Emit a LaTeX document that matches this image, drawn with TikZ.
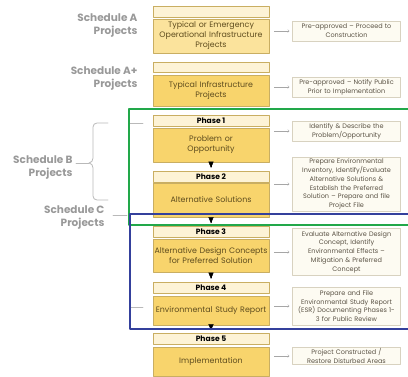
\documentclass[tikz,border=0pt]{standalone}
\usepackage{fontspec}
\setmainfont{Poppins}
\usetikzlibrary{arrows}
\definecolor{hdrfill}{HTML}{FDF3D6}
\definecolor{boxfill}{HTML}{F8D46C}
\definecolor{boxlight}{HTML}{FBE39C}
\definecolor{boxline}{HTML}{C9AE62}
\definecolor{boxtext}{HTML}{5E4C1E}
\definecolor{notefill}{HTML}{FDFBF2}
\definecolor{noteline}{HTML}{D8D2C0}
\definecolor{notetext}{HTML}{5A5244}
\definecolor{schedgrey}{HTML}{999999}
\definecolor{frameB}{HTML}{22A84A}
\definecolor{frameC}{HTML}{34409C}
\tikzset{
    hdr/.style={%Header bar over each box
        draw=boxline, fill=hdrfill, minimum width=116pt, minimum height=11pt, inner sep=0pt,
        font=\bfseries\fontsize{7.6}{8}\selectfont},
    stage/.style={draw=boxline, fill=boxfill, minimum width=116pt, text width=116pt, inner sep=0pt,
        align=center, text=boxtext, font=\fontsize{7.9}{10}\selectfont},
    note/.style={draw=noteline, fill=notefill, minimum width=108pt, text width=108pt, inner sep=0pt,
        align=center, text=notetext, font=\fontsize{6.5}{8.8}\selectfont},
    sched/.style={anchor=east, align=right, text=schedgrey, font=\bfseries\fontsize{10.5}{13}\selectfont},
    note arrow/.style={<-, draw=gray!70, line width=0.4pt, shorten <=3pt, shorten >=5pt},
    phase arrow/.style={-triangle 45, line width=0.4pt, shorten <=3pt, shorten >=3pt},
    brace line/.style={draw=gray!55, line width=0.8pt}
}
\begin{document}
\begin{tikzpicture}[line cap=round,line join=round,x=1pt,y=-1pt]
\useasboundingbox (0,0) rectangle (408,377);
% schedule A and A+
\node[hdr] (hA) at (211,11.5) {};
\node[stage, fill=boxlight, minimum height=34pt] (bA) at (211,36) {Typical or Emergency\\Operational Infrastructure\\Projects};
\node[hdr, minimum height=10pt] (hAp) at (211,67) {};
\node[stage, minimum height=31pt] (bAp) at (211,90.5) {Typical Infrastructure\\Projects};
% phases
\foreach \n/\hy/\by/\bh/\txt in {1/121/145/34/{Problem or\\Opportunity},
    2/176.5/200/34/{Alternative Solutions},
    3/232/255.5/33/{Alternative Design Concepts\\for Preferred Solution},
    4/287.5/310.5/29/{Environmental Study Report},
    5/339/361.5/29/{Implementation}}
{
\node[hdr] (h\n) at (211,\hy) {Phase \n};
\node[stage, minimum height=\bh] (b\n) at (211,\by) {\txt};
}
\foreach \a/\b in {1/2,2/3,3/4,4/5}
\draw[phase arrow] (b\a) -- (h\b);
% notes
\foreach \n/\ny/\nh/\txt in {A/31/20/{Pre-approved -- Proceed to\\Construction},
    Ap/87/20/{Pre-approved -- Notify Public\\Prior to Implementation},
    1/131/20/{Identify \& Describe the\\Problem/Opportunity},
    2/184/54/{Prepare Environmental\\Inventory, Identify/Evaluate\\Alternative Solutions \&\\Establish the Preferred\\Solution -- Prepare and file\\Project File},
    3/252/47/{Evaluate Alternative Design\\Concept, Identify\\Environmental Effects --\\Mitigation \& Preferred\\Concept},
    4/306/38/{Prepare and File\\Environmental Study Report\\(ESR) Documenting Phases 1-\\3 for Public Review},
    5/356/17/{Project Constructed /\\Restore Disturbed Areas}}
{
\node[note, minimum height=\nh] (n\n) at (346.5,\ny) {\txt};
\draw[note arrow] (n\n) -- (n\n -| b\n.east);
}
% schedule labels
\node[sched] (sA) at (141,26) {Schedule A\\Projects};
\node[sched] (sAp) at (141,78.5) {Schedule A+\\Projects};
\node[sched] (sB) at (76,168) {Schedule B\\Projects};
\node[sched] (sC) at (108,218) {Schedule C\\Projects};
\coordinate (tipB) at (89,163);
\coordinate (tipC) at (127,215);
\draw[brace line] (108,123) -- (97,123) to[out=180,in=90] (93,127) -- (93,158)
    to[out=-90,in=0] (tipB) to[out=0,in=90] (93,168) -- (93,196) to[out=-90,in=180] (97,200) -- (108,200);
\draw[brace line] (tipB) -- (tipB -| sB.east);
\draw[brace line] (143,123) -- (129,123) -- (129,307) -- (143,307);
\draw[brace line, shorten >=5pt] (tipC) -- (tipC -| sC.east);
% phase frames
\draw[frameB, line width=1.6pt] (129,109) rectangle (414,225);
\draw[frameC, line width=1.6pt] (130,214) rectangle (414,329);
\end{tikzpicture}
\end{document}
